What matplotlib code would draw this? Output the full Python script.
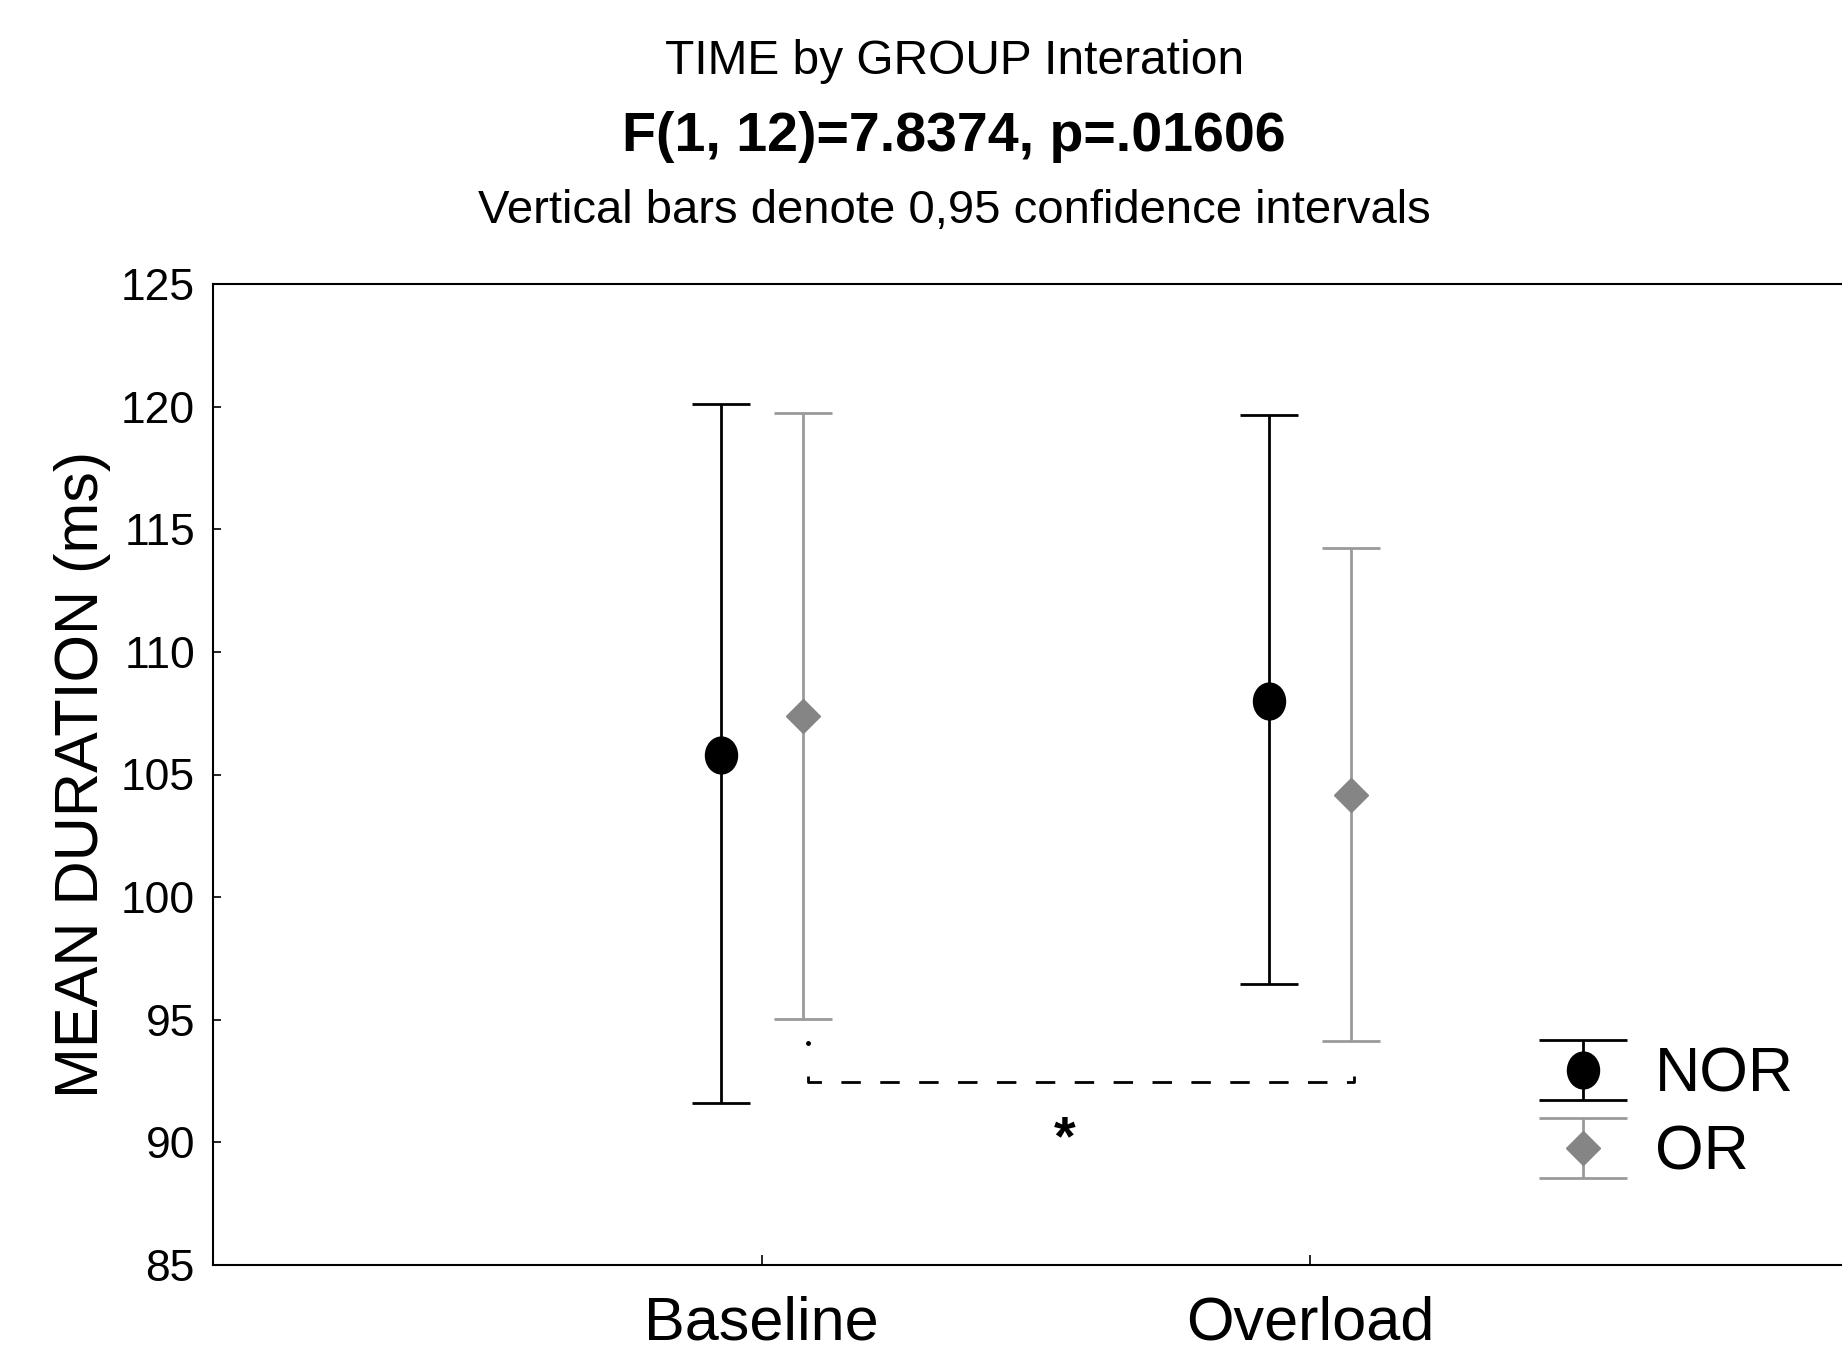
import matplotlib
matplotlib.use("Agg")
import matplotlib.pyplot as plt
import numpy as np
from matplotlib.path import Path
from matplotlib.transforms import Affine2D
from matplotlib.legend_handler import HandlerErrorbar

# ── Data ────────────────────────────────────────────────────────────
conditions = ["Baseline", "Overload"]
groups = ["NOR", "OR"]
nor_mean = [105.8, 108.0]
nor_low = [91.6, 96.45]
nor_high = [120.1, 119.65]
or_mean = [107.4, 104.15]
or_low = [95.05, 94.15]
or_high = [119.75, 114.25]

NARROW = ["Liberation Sans Narrow", "Liberation Sans", "DejaVu Sans"]
REGULAR = ["Liberation Sans", "DejaVu Sans"]
plt.rcParams["font.family"] = NARROW

fig = plt.figure(figsize=(18.42, 13.55), dpi=100)
ax = fig.add_axes([213 / 1842, 90 / 1355, 1646 / 1842, 981 / 1355])

x = np.arange(1, len(conditions) + 1)
off = 0.075

# slightly tall ellipse marker for the NOR means
circ = Path.unit_circle()
ellipse = Path(Affine2D().scale(0.87, 1.0).transform(circ.vertices), circ.codes)

nor_mean_a = np.array(nor_mean)
or_mean_a = np.array(or_mean)
nor_err = [nor_mean_a - np.array(nor_low), np.array(nor_high) - nor_mean_a]
or_err = [or_mean_a - np.array(or_low), np.array(or_high) - or_mean_a]

h1 = ax.errorbar(x - off, nor_mean, yerr=nor_err, linestyle="none", marker=ellipse,
                 markersize=26.5, color="black", ecolor="black",
                 elinewidth=2.0, capsize=21, capthick=2.0, zorder=3)
h2 = ax.errorbar(x + off, or_mean, yerr=or_err, linestyle="none", marker="D",
                 markersize=17, color="#858585", ecolor="#9a9a9a",
                 elinewidth=2.0, capsize=21, capthick=2.0, zorder=3)


def upd(legend_handle, orig_handle):
    legend_handle.update_from(orig_handle)
    # wider caps in the legend
    if hasattr(orig_handle, "get_marker") and orig_handle.get_marker() == "_":
        legend_handle.set_markersize(63)


leg = fig.legend([h1, h2], groups, loc="upper left",
                 bbox_to_anchor=(1536 / 1842, 1 - 1046 / 1355),
                 frameon=False, fontsize=45, labelspacing=0.3, handlelength=1.5,
                 handletextpad=0.4, borderpad=0, borderaxespad=0,
                 handler_map={type(h1): HandlerErrorbar(yerr_size=0.48, update_func=upd)})

# ── Significance bracket between OR baseline and OR overload ───────
br_y = 92.45
bx0, bx1 = x[0] + off + 0.01, x[1] + off + 0.005
ax.plot([bx0, bx0, bx1, bx1], [br_y + 0.25, br_y, br_y, br_y + 0.25],
        color="black", linewidth=2.0, linestyle=(0, (7, 7)), zorder=2)
ax.plot([bx0], [94.05], marker="o", markersize=2.5, color="black")
ax.text((bx0 + bx1) / 2 - 0.03, 90.1, "*", fontsize=40, fontweight="bold",
        ha="center", va="center", family=REGULAR)

# ── Axes ────────────────────────────────────────────────────────────
ax.set_xlim(0, 3)
ax.set_ylim(85, 125)
ax.set_yticks(np.arange(85, 126, 5))
ax.set_xticks(x)
ax.set_xticklabels(conditions, fontsize=44)
ax.tick_params(axis="y", direction="in", length=6, width=1.2, labelsize=32, pad=13)
ax.tick_params(axis="x", direction="in", length=7, width=1.2, pad=22)
ax.spines["right"].set_visible(False)
for s in ["left", "top", "bottom"]:
    ax.spines[s].set_linewidth(1.5)

ax.set_ylabel("MEAN DURATION (ms)", fontsize=44, family=REGULAR)
ax.yaxis.label.set_va("center")
ax.yaxis.set_label_coords(-0.079, 0.5)

# ── Title block ─────────────────────────────────────────────────────
fig.text(0.518, 1 - 61 / 1355, "TIME by GROUP Interation", fontsize=34.5,
         ha="center", va="center")
fig.text(0.518, 1 - 137 / 1355, "F(1, 12)=7.8374, p=.01606", fontsize=40,
         fontweight="bold", ha="center", va="center")
fig.text(0.518, 1 - 211 / 1355, "Vertical bars denote 0,95 confidence intervals",
         fontsize=34, ha="center", va="center")

fig.savefig("out.png", dpi=100, facecolor="white")
